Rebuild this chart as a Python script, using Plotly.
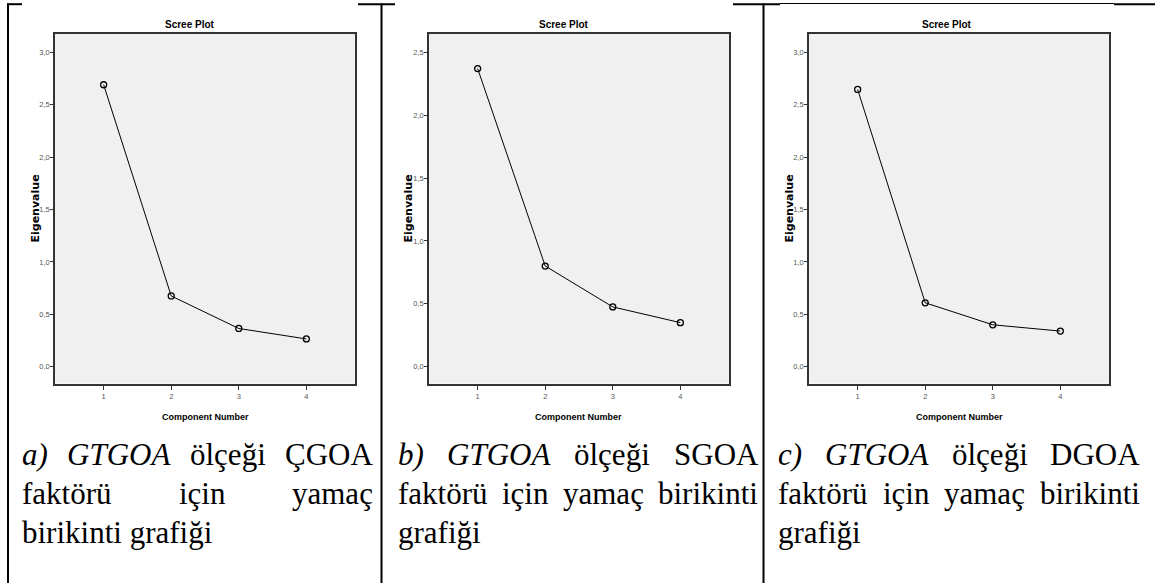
import plotly.graph_objects as go

W, H = 1155, 583

# ---- data -------------------------------------------------------------
components = [1, 2, 3, 4]
eig_a = [2.69, 0.675, 0.365, 0.265]
eig_b = [2.37, 0.80, 0.475, 0.35]
eig_c = [2.645, 0.61, 0.40, 0.34]

x_ticks = [1, 2, 3, 4]
x_labels = ["1", "2", "3", "4"]
y_ticks_3 = [0.0, 0.5, 1.0, 1.5, 2.0, 2.5, 3.0]
y_labels_3 = ["0,0", "0,5", "1,0", "1,5", "2,0", "2,5", "3,0"]
y_ticks_25 = [0.0, 0.5, 1.0, 1.5, 2.0, 2.5]
y_labels_25 = ["0,0", "0,5", "1,0", "1,5", "2,0", "2,5"]

plot_title = "Scree Plot"
x_title = "Component Number"
y_title = "Eigenvalue"

caption_a = [
    [("a)", True), ("GTGOA", True), ("ölçeği", False), ("ÇGOA", False)],
    [("faktörü", False), ("için", False), ("yamaç", False)],
    [("birikinti grafiği", False)],
]
caption_b = [
    [("b)", True), ("GTGOA", True), ("ölçeği", False), ("SGOA", False)],
    [("faktörü", False), ("için", False), ("yamaç", False), ("birikinti", False)],
    [("grafiği", False)],
]
caption_c = [
    [("c)", True), ("GTGOA", True), ("ölçeği", False), ("DGOA", False)],
    [("faktörü", False), ("için", False), ("yamaç", False), ("birikinti", False)],
    [("grafiği", False)],
]

# ---- panel geometry (pixels) -------------------------------------------
panels = [
    dict(y=eig_a, yt=y_ticks_3, yl=y_labels_3, yr=[-0.160, 3.179],
         x0=55, x1=355, img=(22, 358), ytx=35, cap=caption_a, col=(22, 373)),
    dict(y=eig_b, yt=y_ticks_25, yl=y_labels_25, yr=[-0.134, 2.649],
         x0=429, x1=729, img=(395, 733), ytx=408, cap=caption_b, col=(398, 758)),
    dict(y=eig_c, yt=y_ticks_3, yl=y_labels_3, yr=[-0.160, 3.179],
         x0=809, x1=1109, img=(780, 1114), ytx=789, cap=caption_c, col=(778, 1140)),
]
PLOT_TOP, PLOT_BOT = 33.5, 383.5
X_RANGE = [0.28, 4.72]

SANS = "Liberation Sans, Arial, sans-serif"
WIDE = "DejaVu Sans, sans-serif"
SERIF = "Liberation Serif, Times New Roman, serif"
CAP_SIZE = 31


def px(x):
    return x / W


def py(y):
    return 1 - y / H


# Times-compatible advance widths (1/1000 em) for caption layout
ROMAN = {" ": 250, "a": 444, "b": 500, "c": 444, "e": 444, "f": 333, "g": 500,
         "i": 278, "k": 500, "l": 278, "m": 778, "n": 500, "r": 333, "t": 278,
         "u": 500, "y": 500, "ö": 500, "ü": 500, "ç": 444, "ğ": 500, "A": 722,
         "C": 667, "Ç": 667, "D": 722, "G": 722, "O": 722, "S": 556, ")": 333}
ITALIC = {" ": 250, "a": 500, "b": 500, "c": 444, ")": 333, "G": 722,
          "T": 556, "O": 722, "A": 611}


def word_width(word, italic):
    table = ITALIC if italic else ROMAN
    return sum(table.get(ch, 500) for ch in word) / 1000 * CAP_SIZE


fig = go.Figure()
annotations = []
layout_axes = {}

for i, p in enumerate(panels, start=1):
    xa = "x" if i == 1 else f"x{i}"
    ya = "y" if i == 1 else f"y{i}"
    fig.add_trace(go.Scatter(
        x=components, y=p["y"], xaxis=xa, yaxis=ya, mode="lines+markers",
        line=dict(color="black", width=1),
        marker=dict(symbol="circle-open", size=6, color="black",
                    line=dict(color="black", width=1.3)),
        hoverinfo="x+y", showlegend=False,
    ))
    suffix = "" if i == 1 else str(i)
    layout_axes["xaxis" + suffix] = dict(
        domain=[px(p["x0"]), px(p["x1"])], anchor=ya, range=X_RANGE,
        tickmode="array", tickvals=x_ticks, ticktext=x_labels,
        ticks="outside", ticklen=5, tickwidth=1, tickcolor="#333",
        showgrid=False, zeroline=False, showline=True, mirror=True,
        linecolor="#333", linewidth=1.5,
        tickfont=dict(family=SANS, size=7.5, color="#555"), fixedrange=True,
    )
    layout_axes["yaxis" + suffix] = dict(
        domain=[py(PLOT_BOT), py(PLOT_TOP)], anchor=xa, range=p["yr"],
        tickmode="array", tickvals=p["yt"], ticktext=p["yl"],
        ticks="outside", ticklen=3, tickwidth=1, tickcolor="#333",
        ticklabelstandoff=-1,
        showgrid=False, zeroline=False, showline=True, mirror=True,
        linecolor="#333", linewidth=1.5,
        tickfont=dict(family=SANS, size=7.5, color="#555"), fixedrange=True,
    )

    img_mid = (p["img"][0] + p["img"][1]) / 2
    plot_mid = (p["x0"] + p["x1"]) / 2
    annotations.append(dict(
        text=plot_title, x=px(img_mid), y=py(24), xref="paper", yref="paper",
        xanchor="center", yanchor="middle", showarrow=False,
        font=dict(family=SANS, size=10, color="black", weight="bold")))
    annotations.append(dict(
        text=x_title, x=px(plot_mid), y=py(417), xref="paper", yref="paper",
        xanchor="center", yanchor="middle", showarrow=False,
        font=dict(family=SANS, size=9, color="black", weight="bold")))
    annotations.append(dict(
        text=y_title, x=px(p["ytx"]), y=py((PLOT_TOP + PLOT_BOT) / 2),
        xref="paper", yref="paper", xanchor="center", yanchor="middle",
        textangle=-90, showarrow=False,
        font=dict(family=WIDE, size=11, color="black", weight="bold")))

    # caption below the chart, justified like the table cell text
    left, right = p["col"]
    line_y = [455, 493.5, 532.5]
    n_lines = len(p["cap"])
    for li, words in enumerate(p["cap"]):
        widths = [word_width(w, it) for w, it in words]
        justify = li < n_lines - 1 and len(words) > 1
        gap = (right - left - sum(widths)) / (len(words) - 1) if justify else CAP_SIZE * 0.25
        xpos = left
        for (w, it), wd in zip(words, widths):
            annotations.append(dict(
                text=f"<i>{w}</i>" if it else w, x=px(xpos - 1), y=py(line_y[li]),
                xref="paper", yref="paper", xanchor="left", yanchor="middle",
                showarrow=False, borderpad=0,
                font=dict(family=SERIF, size=CAP_SIZE, color="black")))
            xpos += wd + gap

# table borders
shapes = []
for vx in [8, 381.5, 763.5]:
    shapes.append(dict(type="line", xref="paper", yref="paper",
                       x0=px(vx), x1=px(vx), y0=py(3.5), y1=py(H),
                       line=dict(color="black", width=2)))
for sx0, sx1 in [(7, 22), (358, 395), (733, 780), (1114, W)]:
    shapes.append(dict(type="line", xref="paper", yref="paper",
                       x0=px(sx0), x1=px(sx1), y0=py(4.2), y1=py(4.2),
                       line=dict(color="black", width=2)))
shapes.append(dict(type="line", xref="paper", yref="paper",
                   x0=px(780), x1=px(1114), y0=py(3.5), y1=py(3.5),
                   line=dict(color="black", width=1)))

fig.update_layout(
    width=W, height=H, margin=dict(l=0, r=0, t=0, b=0),
    paper_bgcolor="white", plot_bgcolor="#f0f0f0",
    showlegend=False, annotations=annotations, shapes=shapes,
    **layout_axes,
)

fig.write_html("out.html", config={"displayModeBar": False})
